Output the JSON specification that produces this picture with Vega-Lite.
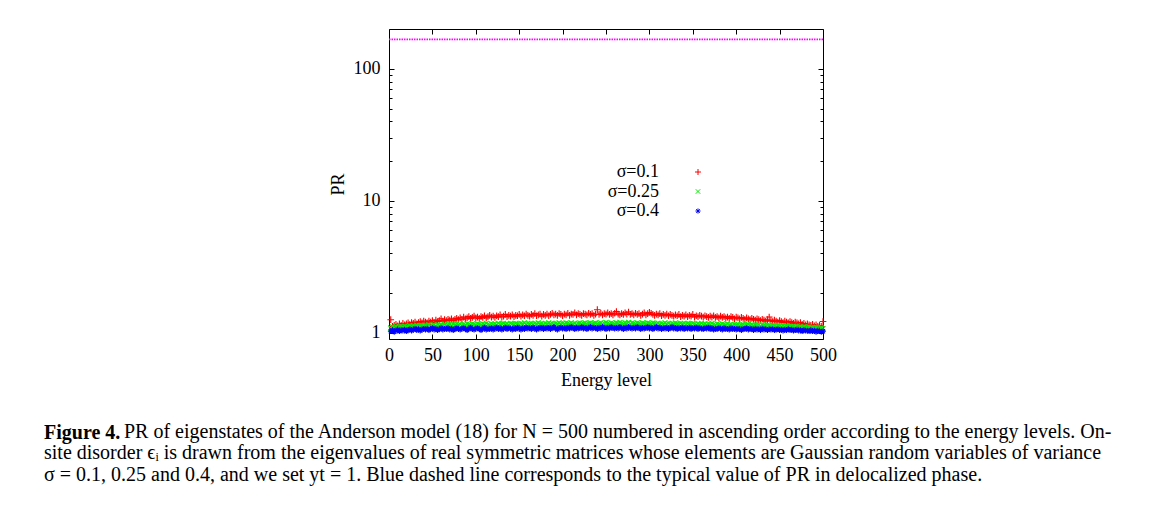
{
  "$schema": "https://vega.github.io/schema/vega-lite/v6.json",
  "width": 434,
  "height": 310,
  "autosize": {"type": "none"},
  "padding": {"left": 389, "top": 29, "right": 345, "bottom": 172},
  "background": "white",
  "config": {
    "font": "Liberation Serif",
    "view": {"stroke": "black", "strokeWidth": 1},
    "axis": {"labelFont": "Liberation Serif", "titleFont": "Liberation Serif", "labelFontSize": 18, "titleFontSize": 18, "titleFontWeight": "normal", "labelColor": "black", "titleColor": "black", "tickColor": "black", "tickWidth": 1, "domain": false, "grid": false}
  },
  "title": {
    "text": "Figure 4.",
    "subtitle": [
      "\u200b\u2002\u2002\u2002\u2002\u2002\u2002\u2002\u2002PR of eigenstates of the Anderson model (18) for N = 500 numbered in ascending order according to the energy levels. On-",
      "site disorder ϵᵢ is drawn from the eigenvalues of real symmetric matrices whose elements are Gaussian random variables of variance",
      "σ = 0.1, 0.25 and 0.4, and we set yt = 1. Blue dashed line corresponds to the typical value of PR in delocalized phase."
    ],
    "orient": "bottom",
    "anchor": "start",
    "frame": "group",
    "dx": -345,
    "offset": 34,
    "font": "Liberation Serif",
    "fontSize": 20,
    "fontWeight": "bold",
    "color": "black",
    "lineHeight": 21.5,
    "subtitleFont": "Liberation Serif",
    "subtitleFontSize": 20,
    "subtitleColor": "black",
    "subtitleLineHeight": 21.5,
    "subtitlePadding": -21.5
  },
  "layer": [
    {
      "data": {"values": [
        {"n":2,"a":1.26,"b":1.09,"c":1.03},{"n":4,"a":1.12,"b":1.11,"c":1.05},{"n":6,"a":1.14,"b":1.10,"c":1.02},{"n":8,"a":1.16,"b":1.12,"c":1.04},{"n":10,"a":1.13,"b":1.09,"c":1.06},
        {"n":12,"a":1.17,"b":1.11,"c":1.03},{"n":14,"a":1.14,"b":1.12,"c":1.05},{"n":16,"a":1.18,"b":1.10,"c":1.04},{"n":18,"a":1.15,"b":1.12,"c":1.06},{"n":20,"a":1.17,"b":1.11,"c":1.03},
        {"n":22,"a":1.19,"b":1.12,"c":1.05},{"n":24,"a":1.16,"b":1.13,"c":1.07},{"n":26,"a":1.20,"b":1.11,"c":1.04},{"n":28,"a":1.18,"b":1.13,"c":1.06},{"n":30,"a":1.21,"b":1.12,"c":1.08},
        {"n":32,"a":1.17,"b":1.14,"c":1.05},{"n":34,"a":1.20,"b":1.12,"c":1.07},{"n":36,"a":1.22,"b":1.13,"c":1.04},{"n":38,"a":1.19,"b":1.14,"c":1.06},{"n":40,"a":1.23,"b":1.12,"c":1.08},
        {"n":42,"a":1.21,"b":1.14,"c":1.06},{"n":44,"a":1.19,"b":1.13,"c":1.08},{"n":46,"a":1.23,"b":1.15,"c":1.05},{"n":48,"a":1.21,"b":1.13,"c":1.07},{"n":50,"a":1.24,"b":1.14,"c":1.09},
        {"n":52,"a":1.20,"b":1.15,"c":1.06},{"n":54,"a":1.25,"b":1.13,"c":1.08},{"n":56,"a":1.22,"b":1.15,"c":1.05},{"n":58,"a":1.24,"b":1.14,"c":1.07},{"n":60,"a":1.28,"b":1.15,"c":1.09},
        {"n":62,"a":1.23,"b":1.14,"c":1.06},{"n":64,"a":1.26,"b":1.16,"c":1.08},{"n":66,"a":1.24,"b":1.14,"c":1.07},{"n":68,"a":1.27,"b":1.15,"c":1.09},{"n":70,"a":1.25,"b":1.16,"c":1.06},
        {"n":72,"a":1.28,"b":1.14,"c":1.08},{"n":74,"a":1.24,"b":1.16,"c":1.05},{"n":76,"a":1.27,"b":1.15,"c":1.07},{"n":78,"a":1.29,"b":1.17,"c":1.09},{"n":80,"a":1.26,"b":1.15,"c":1.07},
        {"n":82,"a":1.30,"b":1.16,"c":1.06},{"n":84,"a":1.27,"b":1.14,"c":1.08},{"n":86,"a":1.32,"b":1.16,"c":1.09},{"n":88,"a":1.28,"b":1.15,"c":1.07},{"n":90,"a":1.30,"b":1.17,"c":1.05},
        {"n":92,"a":1.33,"b":1.16,"c":1.08},{"n":94,"a":1.29,"b":1.15,"c":1.10},{"n":96,"a":1.31,"b":1.17,"c":1.07},{"n":98,"a":1.34,"b":1.16,"c":1.06},{"n":100,"a":1.30,"b":1.15,"c":1.08},
        {"n":102,"a":1.32,"b":1.17,"c":1.09},{"n":104,"a":1.29,"b":1.16,"c":1.07},{"n":106,"a":1.33,"b":1.15,"c":1.05},{"n":108,"a":1.31,"b":1.17,"c":1.08},{"n":110,"a":1.35,"b":1.16,"c":1.10},
        {"n":112,"a":1.30,"b":1.18,"c":1.06},{"n":114,"a":1.33,"b":1.16,"c":1.08},{"n":116,"a":1.36,"b":1.15,"c":1.07},{"n":118,"a":1.32,"b":1.17,"c":1.09},{"n":120,"a":1.34,"b":1.16,"c":1.06},
        {"n":122,"a":1.31,"b":1.17,"c":1.08},{"n":124,"a":1.35,"b":1.15,"c":1.10},{"n":126,"a":1.33,"b":1.18,"c":1.07},{"n":128,"a":1.37,"b":1.16,"c":1.09},{"n":130,"a":1.32,"b":1.17,"c":1.06},
        {"n":132,"a":1.34,"b":1.18,"c":1.08},{"n":134,"a":1.38,"b":1.16,"c":1.10},{"n":136,"a":1.33,"b":1.17,"c":1.07},{"n":138,"a":1.36,"b":1.15,"c":1.09},{"n":140,"a":1.34,"b":1.18,"c":1.08},
        {"n":142,"a":1.37,"b":1.17,"c":1.06},{"n":144,"a":1.33,"b":1.16,"c":1.09},{"n":146,"a":1.36,"b":1.18,"c":1.07},{"n":148,"a":1.35,"b":1.17,"c":1.10},{"n":150,"a":1.38,"b":1.16,"c":1.08},
        {"n":152,"a":1.34,"b":1.18,"c":1.06},{"n":154,"a":1.37,"b":1.17,"c":1.09},{"n":156,"a":1.35,"b":1.19,"c":1.07},{"n":158,"a":1.39,"b":1.16,"c":1.10},{"n":160,"a":1.36,"b":1.18,"c":1.08},
        {"n":162,"a":1.34,"b":1.17,"c":1.09},{"n":164,"a":1.38,"b":1.18,"c":1.07},{"n":166,"a":1.36,"b":1.16,"c":1.10},{"n":168,"a":1.40,"b":1.18,"c":1.08},{"n":170,"a":1.35,"b":1.17,"c":1.06},
        {"n":172,"a":1.37,"b":1.19,"c":1.09},{"n":174,"a":1.39,"b":1.17,"c":1.08},{"n":176,"a":1.34,"b":1.18,"c":1.10},{"n":178,"a":1.38,"b":1.16,"c":1.07},{"n":180,"a":1.36,"b":1.18,"c":1.09},
        {"n":182,"a":1.39,"b":1.17,"c":1.08},{"n":184,"a":1.35,"b":1.19,"c":1.10},{"n":186,"a":1.38,"b":1.17,"c":1.07},{"n":188,"a":1.41,"b":1.18,"c":1.09},{"n":190,"a":1.37,"b":1.16,"c":1.11},
        {"n":192,"a":1.39,"b":1.18,"c":1.08},{"n":194,"a":1.36,"b":1.17,"c":1.06},{"n":196,"a":1.40,"b":1.19,"c":1.09},{"n":198,"a":1.38,"b":1.17,"c":1.10},{"n":200,"a":1.35,"b":1.18,"c":1.08},
        {"n":202,"a":1.39,"b":1.17,"c":1.09},{"n":204,"a":1.37,"b":1.19,"c":1.07},{"n":206,"a":1.41,"b":1.18,"c":1.10},{"n":208,"a":1.36,"b":1.17,"c":1.08},{"n":210,"a":1.39,"b":1.19,"c":1.11},
        {"n":212,"a":1.38,"b":1.17,"c":1.09},{"n":214,"a":1.42,"b":1.18,"c":1.07},{"n":216,"a":1.37,"b":1.16,"c":1.10},{"n":218,"a":1.40,"b":1.18,"c":1.08},{"n":220,"a":1.38,"b":1.19,"c":1.09},
        {"n":222,"a":1.36,"b":1.17,"c":1.11},{"n":224,"a":1.40,"b":1.18,"c":1.08},{"n":226,"a":1.39,"b":1.19,"c":1.10},{"n":228,"a":1.37,"b":1.17,"c":1.07},{"n":230,"a":1.41,"b":1.18,"c":1.09},
        {"n":232,"a":1.38,"b":1.19,"c":1.11},{"n":234,"a":1.40,"b":1.17,"c":1.08},{"n":236,"a":1.36,"b":1.18,"c":1.10},{"n":238,"a":1.39,"b":1.19,"c":1.09},{"n":240,"a":1.50,"b":1.17,"c":1.07},
        {"n":242,"a":1.38,"b":1.18,"c":1.10},{"n":244,"a":1.41,"b":1.19,"c":1.08},{"n":246,"a":1.37,"b":1.17,"c":1.11},{"n":248,"a":1.40,"b":1.18,"c":1.09},{"n":250,"a":1.39,"b":1.20,"c":1.07},
        {"n":252,"a":1.42,"b":1.18,"c":1.10},{"n":254,"a":1.38,"b":1.17,"c":1.08},{"n":256,"a":1.40,"b":1.19,"c":1.11},{"n":258,"a":1.37,"b":1.18,"c":1.09},{"n":260,"a":1.41,"b":1.17,"c":1.08},
        {"n":262,"a":1.45,"b":1.19,"c":1.10},{"n":264,"a":1.39,"b":1.18,"c":1.08},{"n":266,"a":1.37,"b":1.20,"c":1.11},{"n":268,"a":1.40,"b":1.18,"c":1.09},{"n":270,"a":1.38,"b":1.17,"c":1.07},
        {"n":272,"a":1.42,"b":1.19,"c":1.10},{"n":274,"a":1.39,"b":1.18,"c":1.08},{"n":276,"a":1.44,"b":1.20,"c":1.11},{"n":278,"a":1.38,"b":1.17,"c":1.09},{"n":280,"a":1.40,"b":1.19,"c":1.08},
        {"n":282,"a":1.37,"b":1.18,"c":1.10},{"n":284,"a":1.41,"b":1.17,"c":1.08},{"n":286,"a":1.38,"b":1.19,"c":1.11},{"n":288,"a":1.40,"b":1.18,"c":1.09},{"n":290,"a":1.36,"b":1.17,"c":1.07},
        {"n":292,"a":1.39,"b":1.19,"c":1.10},{"n":294,"a":1.42,"b":1.18,"c":1.08},{"n":296,"a":1.37,"b":1.17,"c":1.09},{"n":298,"a":1.40,"b":1.19,"c":1.11},{"n":300,"a":1.43,"b":1.18,"c":1.08},
        {"n":302,"a":1.41,"b":1.17,"c":1.10},{"n":304,"a":1.38,"b":1.19,"c":1.07},{"n":306,"a":1.36,"b":1.18,"c":1.09},{"n":308,"a":1.39,"b":1.17,"c":1.11},{"n":310,"a":1.37,"b":1.18,"c":1.08},
        {"n":312,"a":1.40,"b":1.16,"c":1.10},{"n":314,"a":1.35,"b":1.18,"c":1.07},{"n":316,"a":1.38,"b":1.17,"c":1.09},{"n":318,"a":1.36,"b":1.19,"c":1.08},{"n":320,"a":1.39,"b":1.17,"c":1.10},
        {"n":322,"a":1.35,"b":1.18,"c":1.07},{"n":324,"a":1.38,"b":1.16,"c":1.09},{"n":326,"a":1.36,"b":1.18,"c":1.11},{"n":328,"a":1.34,"b":1.17,"c":1.08},{"n":330,"a":1.37,"b":1.19,"c":1.10},
        {"n":332,"a":1.35,"b":1.17,"c":1.07},{"n":334,"a":1.38,"b":1.16,"c":1.09},{"n":336,"a":1.33,"b":1.18,"c":1.08},{"n":338,"a":1.36,"b":1.17,"c":1.10},{"n":340,"a":1.34,"b":1.18,"c":1.07},
        {"n":342,"a":1.37,"b":1.16,"c":1.09},{"n":344,"a":1.33,"b":1.18,"c":1.08},{"n":346,"a":1.36,"b":1.17,"c":1.10},{"n":348,"a":1.34,"b":1.16,"c":1.07},{"n":350,"a":1.38,"b":1.18,"c":1.09},
        {"n":352,"a":1.32,"b":1.17,"c":1.08},{"n":354,"a":1.35,"b":1.15,"c":1.10},{"n":356,"a":1.33,"b":1.17,"c":1.07},{"n":358,"a":1.36,"b":1.16,"c":1.09},{"n":360,"a":1.34,"b":1.18,"c":1.08},
        {"n":362,"a":1.32,"b":1.16,"c":1.07},{"n":364,"a":1.35,"b":1.17,"c":1.09},{"n":366,"a":1.33,"b":1.15,"c":1.08},{"n":368,"a":1.31,"b":1.17,"c":1.10},{"n":370,"a":1.34,"b":1.16,"c":1.07},
        {"n":372,"a":1.32,"b":1.18,"c":1.09},{"n":374,"a":1.35,"b":1.16,"c":1.06},{"n":376,"a":1.31,"b":1.15,"c":1.08},{"n":378,"a":1.33,"b":1.17,"c":1.07},{"n":380,"a":1.30,"b":1.16,"c":1.09},
        {"n":382,"a":1.34,"b":1.15,"c":1.08},{"n":384,"a":1.31,"b":1.17,"c":1.06},{"n":386,"a":1.33,"b":1.16,"c":1.09},{"n":388,"a":1.30,"b":1.15,"c":1.07},{"n":390,"a":1.32,"b":1.17,"c":1.08},
        {"n":392,"a":1.29,"b":1.15,"c":1.06},{"n":394,"a":1.33,"b":1.16,"c":1.09},{"n":396,"a":1.31,"b":1.14,"c":1.07},{"n":398,"a":1.28,"b":1.16,"c":1.08},{"n":400,"a":1.32,"b":1.15,"c":1.06},
        {"n":402,"a":1.30,"b":1.16,"c":1.08},{"n":404,"a":1.28,"b":1.14,"c":1.07},{"n":406,"a":1.31,"b":1.15,"c":1.05},{"n":408,"a":1.29,"b":1.16,"c":1.08},{"n":410,"a":1.27,"b":1.14,"c":1.07},
        {"n":412,"a":1.30,"b":1.15,"c":1.09},{"n":414,"a":1.28,"b":1.16,"c":1.06},{"n":416,"a":1.26,"b":1.14,"c":1.08},{"n":418,"a":1.29,"b":1.15,"c":1.07},{"n":420,"a":1.27,"b":1.14,"c":1.05},
        {"n":422,"a":1.25,"b":1.15,"c":1.08},{"n":424,"a":1.28,"b":1.14,"c":1.06},{"n":426,"a":1.26,"b":1.15,"c":1.07},{"n":428,"a":1.24,"b":1.13,"c":1.05},{"n":430,"a":1.27,"b":1.15,"c":1.08},
        {"n":432,"a":1.25,"b":1.14,"c":1.06},{"n":434,"a":1.23,"b":1.13,"c":1.07},{"n":436,"a":1.26,"b":1.15,"c":1.05},{"n":438,"a":1.32,"b":1.14,"c":1.07},{"n":440,"a":1.24,"b":1.13,"c":1.06},
        {"n":442,"a":1.22,"b":1.14,"c":1.07},{"n":444,"a":1.25,"b":1.13,"c":1.05},{"n":446,"a":1.23,"b":1.12,"c":1.06},{"n":448,"a":1.21,"b":1.14,"c":1.07},{"n":450,"a":1.24,"b":1.13,"c":1.05},
        {"n":452,"a":1.22,"b":1.12,"c":1.06},{"n":454,"a":1.20,"b":1.13,"c":1.04},{"n":456,"a":1.23,"b":1.12,"c":1.06},{"n":458,"a":1.21,"b":1.13,"c":1.05},{"n":460,"a":1.19,"b":1.11,"c":1.07},
        {"n":462,"a":1.22,"b":1.12,"c":1.05},{"n":464,"a":1.20,"b":1.11,"c":1.06},{"n":466,"a":1.18,"b":1.12,"c":1.04},{"n":468,"a":1.21,"b":1.11,"c":1.05},{"n":470,"a":1.19,"b":1.12,"c":1.06},
        {"n":472,"a":1.17,"b":1.10,"c":1.04},{"n":474,"a":1.20,"b":1.11,"c":1.05},{"n":476,"a":1.16,"b":1.10,"c":1.03},{"n":478,"a":1.18,"b":1.11,"c":1.05},{"n":480,"a":1.15,"b":1.10,"c":1.04},
        {"n":482,"a":1.17,"b":1.10,"c":1.04},{"n":484,"a":1.15,"b":1.11,"c":1.03},{"n":486,"a":1.14,"b":1.09,"c":1.05},{"n":488,"a":1.16,"b":1.10,"c":1.03},{"n":490,"a":1.13,"b":1.09,"c":1.04},
        {"n":492,"a":1.15,"b":1.10,"c":1.02},{"n":494,"a":1.12,"b":1.09,"c":1.04},{"n":496,"a":1.14,"b":1.08,"c":1.03},{"n":498,"a":1.12,"b":1.09,"c":1.02},{"n":500,"a":1.22,"b":1.08,"c":1.03}
      ]},
      "transform": [{"fold": ["a", "b", "c"], "as": ["s", "v"]}],
      "mark": {"type": "point", "filled": false, "strokeWidth": 1.1, "opacity": 1, "size": 45},
      "encoding": {
        "x": {"field": "n", "type": "quantitative", "scale": {"domain": [0, 500], "nice": false, "zero": false},
          "axis": {"orient": "bottom", "values": [0,50,100,150,200,250,300,350,400,450,500], "tickSize": -5, "labelPadding": 12, "labelFlush": false, "title": "Energy level", "titleY": 46, "titleBaseline": "alphabetic"}},
        "y": {"field": "v", "type": "quantitative", "scale": {"type": "log", "domain": [0.9, 200], "nice": false},
          "axis": {"orient": "left", "values": [1,2,3,4,5,6,7,8,9,10,20,30,40,50,60,70,80,90,100], "format": "d",
            "labelExpr": "datum.value === 1 || datum.value === 10 || datum.value === 100 ? datum.label : ''",
            "tickSize": {"condition": {"test": "datum.value === 1 || datum.value === 10 || datum.value === 100", "value": -5}, "value": -3},
            "labelPadding": 14, "labelFlush": false, "labelBaseline": "middle", "title": "PR", "titleX": -51, "titleY": 155, "titleAngle": -90, "titleBaseline": "middle"}},
        "color": {"field": "s", "type": "nominal", "scale": {"domain": ["a", "b", "c"], "range": ["#ff0000", "#00ee00", "#0000ff"]},
          "legend": {"orient": "none", "legendX": 300, "legendY": 134, "title": null, "labelExpr": "datum.label === 'a' ? 'σ=0.1' : datum.label === 'b' ? 'σ=0.25' : 'σ=0.4'", "labelAlign": "right", "labelOffset": -48, "labelFontSize": 18, "labelFont": "Liberation Serif", "labelColor": "black", "symbolSize": 36, "symbolStrokeWidth": 1, "rowPadding": 1.5, "padding": 0}},
        "shape": {"field": "s", "type": "nominal", "scale": {"domain": ["a", "b", "c"], "range": ["M-1,0L1,0M0,-1L0,1", "M-0.75,-0.75L0.75,0.75M-0.75,0.75L0.75,-0.75", "M-0.85,0L0.85,0M0,-0.85L0,0.85M-0.6,-0.6L0.6,0.6M-0.6,0.6L0.6,-0.6"]},
          "legend": {"orient": "none", "legendX": 300, "legendY": 134, "title": null, "labelExpr": "datum.label === 'a' ? 'σ=0.1' : datum.label === 'b' ? 'σ=0.25' : 'σ=0.4'", "labelAlign": "right", "labelOffset": -48, "labelFontSize": 18, "labelFont": "Liberation Serif", "labelColor": "black", "symbolSize": 36, "symbolStrokeWidth": 1, "rowPadding": 1.5, "padding": 0}},
        "order": {"field": "s"}
      }
    },
    {
      "data": {"values": [{"x0": 0, "x1": 500, "y": 167}]},
      "mark": {"type": "rule", "stroke": "#ff00ff", "strokeDash": [1.5, 1], "strokeWidth": 1.6, "opacity": 1},
      "encoding": {
        "x": {"field": "x0", "type": "quantitative",
          "axis": {"orient": "top", "values": [0,50,100,150,200,250,300,350,400,450,500], "tickSize": -5, "labels": false, "title": null}},
        "x2": {"field": "x1"},
        "y": {"field": "y", "type": "quantitative",
          "axis": {"orient": "right", "values": [1,2,3,4,5,6,7,8,9,10,20,30,40,50,60,70,80,90,100], "labels": false, "title": null,
            "tickSize": {"condition": {"test": "datum.value === 1 || datum.value === 10 || datum.value === 100", "value": -5}, "value": -3}}}
      }
    }
  ],
  "resolve": {"axis": {"x": "independent", "y": "independent"}}
}
